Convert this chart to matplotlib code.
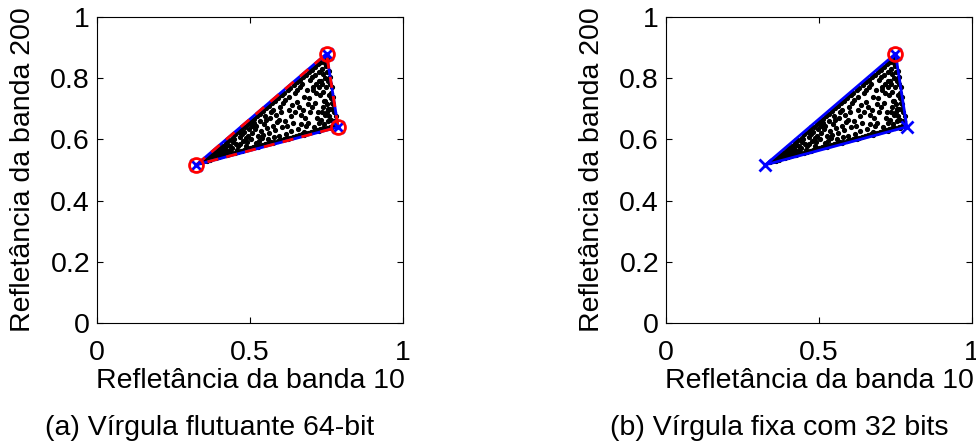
import matplotlib
matplotlib.use('Agg')
import matplotlib.pyplot as plt

plt.rcParams['font.family'] = ['Liberation Sans', 'DejaVu Sans']

# pixel samples (band 10, band 200)
px = [0.34, 0.35, 0.352, 0.36, 0.362, 0.37, 0.372, 0.368, 0.38, 0.383, 0.378,
      0.39, 0.392, 0.388, 0.394, 0.40, 0.402, 0.398, 0.405, 0.41, 0.412, 0.408, 0.415,
      0.42, 0.422, 0.418, 0.425, 0.427, 0.43, 0.432, 0.436, 0.434, 0.44, 0.443, 0.446, 0.441,
      0.45, 0.452, 0.455, 0.448, 0.457, 0.46, 0.463, 0.466, 0.462,
      0.47, 0.472, 0.476, 0.474, 0.468, 0.48, 0.483, 0.486, 0.482, 0.488,
      0.49, 0.492, 0.495, 0.497, 0.491, 0.50, 0.503, 0.506, 0.502, 0.508,
      0.51, 0.512, 0.515, 0.518, 0.514, 0.52, 0.523, 0.526, 0.521, 0.528,
      0.53, 0.532, 0.536, 0.534, 0.538, 0.54, 0.543, 0.546, 0.541, 0.548,
      0.55, 0.553, 0.556, 0.552, 0.558, 0.56, 0.563, 0.566, 0.561, 0.568,
      0.57, 0.572, 0.575, 0.578, 0.574, 0.58, 0.583, 0.586, 0.581, 0.588,
      0.59, 0.592, 0.595, 0.597, 0.594, 0.60, 0.603, 0.606, 0.602, 0.608,
      0.61, 0.612, 0.615, 0.618, 0.614, 0.62, 0.623, 0.626, 0.621, 0.628,
      0.63, 0.632, 0.635, 0.637, 0.634, 0.64, 0.643, 0.646, 0.641, 0.648,
      0.65, 0.652, 0.655, 0.658, 0.654, 0.66, 0.663, 0.666, 0.661, 0.668, 0.664,
      0.67, 0.672, 0.675, 0.678, 0.674, 0.671, 0.68, 0.683, 0.686, 0.681, 0.688, 0.684,
      0.69, 0.692, 0.695, 0.697, 0.694, 0.691, 0.70, 0.703, 0.706, 0.702, 0.708, 0.704,
      0.71, 0.712, 0.715, 0.718, 0.714, 0.711, 0.72, 0.723, 0.726, 0.721, 0.728, 0.724, 0.727,
      0.73, 0.732, 0.735, 0.737, 0.734, 0.731, 0.738,
      0.74, 0.742, 0.745, 0.741, 0.748, 0.744, 0.747, 0.743,
      0.75, 0.752, 0.755, 0.751, 0.758, 0.754, 0.757, 0.753,
      0.76, 0.762, 0.765, 0.761, 0.768, 0.764, 0.77, 0.772, 0.775, 0.771, 0.774,
      0.78, 0.782, 0.779,
      0.40, 0.425, 0.45, 0.475, 0.50, 0.525, 0.55, 0.575, 0.60, 0.625, 0.65, 0.675,
      0.70, 0.725, 0.425, 0.475, 0.525, 0.575, 0.625, 0.675, 0.725, 0.765,
      0.749, 0.753, 0.757, 0.765, 0.769, 0.772, 0.779,
      0.733, 0.739, 0.746, 0.756, 0.763, 0.767, 0.726, 0.736, 0.759, 0.745, 0.716, 0.706]
py = [0.525, 0.528, 0.533, 0.531, 0.541, 0.536, 0.548, 0.532, 0.540, 0.556, 0.547,
      0.538, 0.561, 0.552, 0.545, 0.543, 0.571, 0.558, 0.550, 0.547, 0.580, 0.565, 0.556,
      0.549, 0.589, 0.572, 0.561, 0.583, 0.552, 0.598, 0.578, 0.565, 0.555, 0.606, 0.590, 0.571,
      0.557, 0.617, 0.585, 0.600, 0.566, 0.560, 0.625, 0.607, 0.578,
      0.563, 0.633, 0.596, 0.617, 0.585, 0.566, 0.641, 0.604, 0.625, 0.580,
      0.569, 0.650, 0.612, 0.635, 0.590, 0.571, 0.658, 0.622, 0.600, 0.643,
      0.574, 0.667, 0.634, 0.588, 0.652, 0.577, 0.676, 0.612, 0.645, 0.596,
      0.579, 0.684, 0.628, 0.660, 0.603, 0.582, 0.693, 0.650, 0.615, 0.675,
      0.585, 0.701, 0.636, 0.662, 0.600, 0.588, 0.710, 0.670, 0.620, 0.690,
      0.590, 0.718, 0.645, 0.608, 0.697, 0.593, 0.727, 0.680, 0.630, 0.656,
      0.596, 0.735, 0.612, 0.706, 0.665, 0.598, 0.744, 0.640, 0.690, 0.720,
      0.601, 0.752, 0.660, 0.618, 0.730, 0.604, 0.761, 0.695, 0.645, 0.740,
      0.606, 0.769, 0.628, 0.712, 0.675, 0.609, 0.778, 0.750, 0.655, 0.690,
      0.612, 0.786, 0.722, 0.635, 0.760, 0.614, 0.795, 0.680, 0.705, 0.650, 0.772,
      0.617, 0.803, 0.740, 0.625, 0.695, 0.782, 0.620, 0.812, 0.760, 0.670, 0.715, 0.645,
      0.622, 0.820, 0.795, 0.688, 0.735, 0.655, 0.625, 0.828, 0.770, 0.705, 0.640, 0.805,
      0.628, 0.837, 0.752, 0.670, 0.812, 0.720, 0.630, 0.845, 0.790, 0.690, 0.745, 0.655, 0.820,
      0.633, 0.853, 0.780, 0.705, 0.830, 0.665, 0.755,
      0.636, 0.862, 0.800, 0.725, 0.840, 0.680, 0.770, 0.650,
      0.638, 0.865, 0.790, 0.715, 0.825, 0.660, 0.745, 0.690,
      0.640, 0.805, 0.735, 0.700, 0.770, 0.662, 0.643, 0.740, 0.690, 0.715, 0.660,
      0.645, 0.675, 0.660,
      0.575, 0.597, 0.618, 0.640, 0.660, 0.682, 0.703, 0.724, 0.745, 0.766, 0.788, 0.809,
      0.830, 0.851, 0.548, 0.561, 0.574, 0.587, 0.601, 0.614, 0.627, 0.637,
      0.850, 0.820, 0.800, 0.750, 0.720, 0.700, 0.660,
      0.790, 0.815, 0.725, 0.700, 0.780, 0.735, 0.770, 0.690, 0.675, 0.850, 0.780, 0.760]

# endmembers found by each implementation
true_x = [0.325, 0.750, 0.788]
true_y = [0.517, 0.880, 0.640]
float_x = [0.325, 0.750, 0.788]
float_y = [0.517, 0.880, 0.640]
fixed_x = [0.325, 0.750, 0.787]
fixed_y = [0.517, 0.880, 0.641]
fixed_hit = [1]  # endmembers matched by fixed-point version

captions = ['(a) Vírgula flutuante 64-bit', '(b) Vírgula fixa com 32 bits']
fs = 20.5

fig = plt.figure(figsize=(9.76, 4.43), dpi=100)
W, H = 976, 443
lefts = [97, 666]

for k in range(2):
    ax = fig.add_axes([lefts[k] / W, (H - 323) / H, 306 / W, 306 / H])
    ax.plot(px, py, '.', color='black', markersize=5.5, zorder=2)
    if k == 0:
        ex, ey = float_x, float_y
    else:
        ex, ey = fixed_x, fixed_y
    ax.plot(ex + ex[:1], ey + ey[:1], '-', color='#0000ff', lw=2, zorder=3)
    ax.plot(ex, ey, 'x', color='#0000ff', markersize=8, mew=2, zorder=5)
    if k == 0:
        ax.plot(true_x + true_x[:1], true_y + true_y[:1], '--', color='#ff0000', lw=2,
                dashes=(4, 3), zorder=4)
        ax.plot(true_x, true_y, 'o', color='#ff0000', mfc='none', markersize=10, mew=2, zorder=6)
    else:
        hx = [true_x[i] for i in fixed_hit]
        hy = [true_y[i] for i in fixed_hit]
        ax.plot(hx, hy, 'o', color='#ff0000', mfc='none', markersize=10, mew=2, zorder=6)

    ax.set_xlim(0, 1)
    ax.set_ylim(0, 1)
    ax.set_xticks([0, 0.5, 1])
    ax.set_xticklabels(['0', '0.5', '1'])
    ax.set_yticks([0, 0.2, 0.4, 0.6, 0.8, 1])
    ax.set_yticklabels(['0', '0.2', '0.4', '0.6', '0.8', '1'])
    ax.tick_params(direction='in', length=4, width=0.8, top=True, right=True,
                   labelsize=fs)
    ax.tick_params(axis='x', pad=12)
    ax.tick_params(axis='y', pad=5)
    for s in ax.spines.values():
        s.set_linewidth(0.8)
    ax.set_xlabel('Refletância da banda 10', fontsize=fs, labelpad=2)
    ax.set_ylabel('Refletância da banda 200', fontsize=fs, labelpad=10)

    cx = (lefts[k] + 153 - 40) / W
    fig.text(cx, 1 - 428 / H, captions[k], fontsize=fs, ha='center', va='center')

fig.savefig('out.png', dpi=100)
